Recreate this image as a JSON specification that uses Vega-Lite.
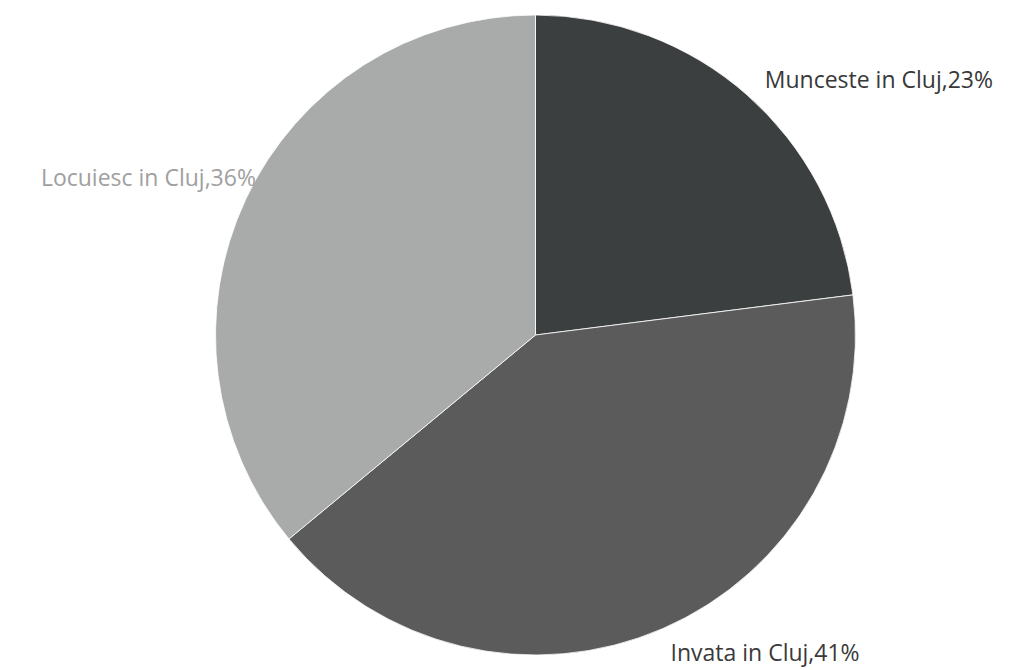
{
  "$schema": "https://vega.github.io/schema/vega-lite/v6.json",
  "autosize": "none",
  "width": 951,
  "height": 670,
  "padding": {"left": 60, "top": 0, "right": 0, "bottom": 0},
  "background": "white",
  "view": {"stroke": null},
  "data": {"values": [
    {"cat": "Munceste in Cluj", "pct": 23, "ord": 1, "label": "Munceste in Cluj,23%"},
    {"cat": "Invata in Cluj", "pct": 41, "ord": 2, "label": "Invata in Cluj,41%"},
    {"cat": "Locuiesc in Cluj", "pct": 36, "ord": 3, "label": "Locuiesc in Cluj,36%"}
  ]},
  "encoding": {
    "theta": {"field": "pct", "type": "quantitative", "stack": true},
    "order": {"field": "ord", "type": "quantitative"}
  },
  "layer": [
    {
      "mark": {"type": "arc", "outerRadius": 320, "stroke": "#ffffff", "strokeWidth": 0.8},
      "encoding": {
        "color": {"field": "cat", "type": "nominal",
          "scale": {"domain": ["Munceste in Cluj", "Invata in Cluj", "Locuiesc in Cluj"],
                    "range": ["#3c3f3f", "#5b5b5b", "#a9abab"]},
          "legend": null}
      }
    },
    {
      "mark": {"type": "text", "radius": 330, "align": "left", "baseline": "middle", "dx": 11, "dy": -6, "font": "Open Sans", "fontSize": 23, "fill": "#383838"},
      "encoding": {
        "detail": {"field": "cat", "type": "nominal"},
        "text": {"condition": {"test": "datum.cat === 'Munceste in Cluj'", "field": "label"}, "value": ""}
      }
    },
    {
      "mark": {"type": "text", "radius": 345, "align": "left", "baseline": "middle", "dx": -2, "dy": 2, "font": "Open Sans", "fontSize": 23, "fill": "#3a3a3a"},
      "encoding": {
        "detail": {"field": "cat", "type": "nominal"},
        "text": {"condition": {"test": "datum.cat === 'Invata in Cluj'", "field": "label"}, "value": ""}
      }
    },
    {
      "mark": {"type": "text", "radius": 330, "align": "right", "baseline": "middle", "dx": 19, "dy": -15, "font": "Open Sans", "fontSize": 23, "fill": "#a0a0a0"},
      "encoding": {
        "detail": {"field": "cat", "type": "nominal"},
        "text": {"condition": {"test": "datum.cat === 'Locuiesc in Cluj'", "field": "label"}, "value": ""}
      }
    }
  ]
}
